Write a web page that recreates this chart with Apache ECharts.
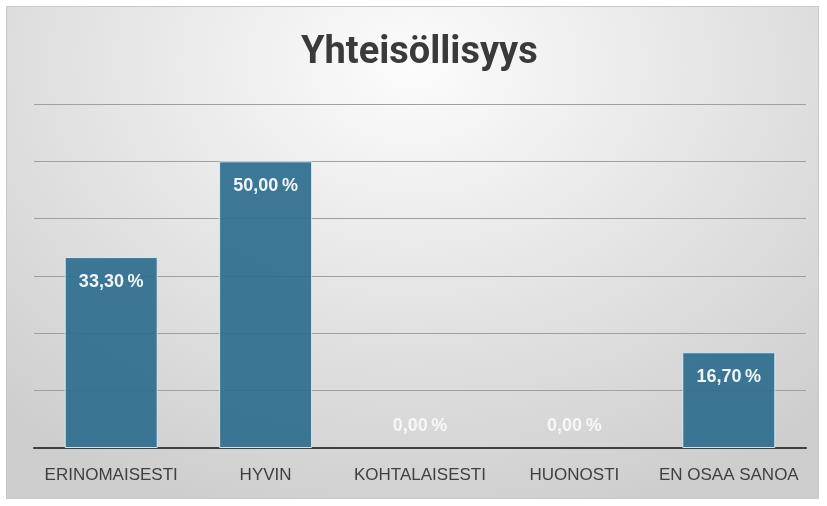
<!DOCTYPE html>
<html>
<head>
<meta charset="utf-8">
<script src="https://cdn.jsdelivr.net/npm/echarts@6/dist/echarts.min.js"></script>
<style>
html,body{margin:0;padding:0;background:#fff;}
#frame{position:absolute;left:6px;top:6px;width:813px;height:493px;box-sizing:border-box;border:1px solid #c8c8c8;
background:radial-gradient(ellipse 75% 95% at 50% 12%, #fcfcfc 0%, #ececec 35%, #dedede 65%, #cecece 100%);}
#chart{position:absolute;left:0;top:0;width:827px;height:506px;}
</style>
</head>
<body>
<div id="frame"></div>
<div id="chart"></div>
<script>
const title = 'Yhteisöllisyys';
const categories = ['ERINOMAISESTI', 'HYVIN', 'KOHTALAISESTI', 'HUONOSTI', 'EN OSAA SANOA'];
const values = [33.3, 50.0, 0.0, 0.0, 16.7];
const yTicks = [0, 10, 20, 30, 40, 50, 60];

const fmt = v => v.toFixed(2).replace('.', ',') + '\u2009%';

const chart = echarts.init(document.getElementById('chart'), null, {renderer: 'canvas'});
chart.setOption({
  backgroundColor: 'transparent',
  animation: false,
  title: {
    text: title,
    left: 296,
    top: 29,
    textStyle: {fontFamily: 'Roboto, sans-serif', fontWeight: 'bold', fontSize: 38, color: '#3a3a3a'}
  },
  grid: {left: 34, right: 21, top: 104, bottom: 58},
  xAxis: {
    type: 'category',
    data: categories,
    axisLine: {lineStyle: {color: '#404040', width: 2}},
    axisTick: {show: false},
    axisLabel: {color: '#404040', fontSize: 17, margin: 19, interval: 0, fontFamily: 'Liberation Sans, Arial, sans-serif'}
  },
  yAxis: {
    type: 'value',
    min: yTicks[0],
    max: yTicks[yTicks.length - 1],
    interval: yTicks[1] - yTicks[0],
    axisLabel: {show: false},
    axisLine: {show: false},
    axisTick: {show: false},
    splitLine: {lineStyle: {color: '#a0a0a0', width: 1}}
  },
  series: [{
    type: 'bar',
    barWidth: 93,
    data: values.map(v => v === 0 ? {
      value: v,
      itemStyle: {borderWidth: 0},
      label: {position: 'top', distance: 13, color: 'rgba(255,255,255,0.85)'}
    } : v),
    itemStyle: {color: '#2E6E8E', opacity: 0.93, borderColor: '#d8eef8', borderWidth: 1},
    label: {
      show: true,
      position: 'insideTop',
      distance: 16,
      color: '#ffffff',
      fontWeight: 'bold',
      fontSize: 18,
      fontFamily: 'Liberation Sans, Arial, sans-serif',
      formatter: p => fmt(p.value)
    }
  }]
});
</script>
</body>
</html>
